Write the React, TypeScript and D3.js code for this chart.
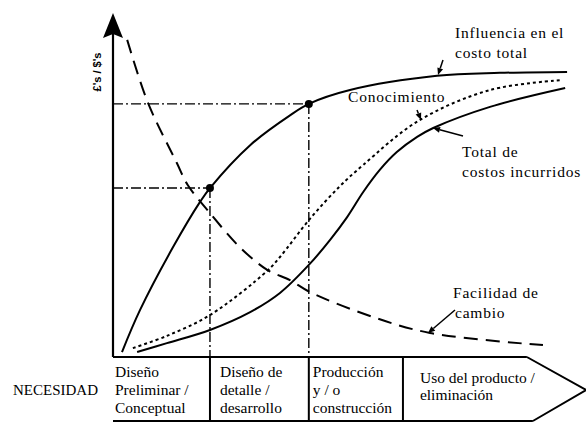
import React from 'react';
import * as d3 from 'd3';

// curve readings, x = project life (0..100), y = relative level (0..100)
const influenceCurve: [number, number][] = [
  [1.9, 1.5], [5.7, 14.2], [12.7, 33.3], [18.4, 47.0], [20.5, 51.2], [29.0, 64.2],
  [37.5, 73.3], [41.4, 76.7], [50.1, 80.9], [68.5, 85.2], [81.8, 86.1], [96.0, 86.4],
];
const easeOfChange: [number, number][] = [
  [3.0, 96.1], [7.4, 77.0], [13.5, 58.8], [15.8, 52.1], [20.5, 43.6], [26.8, 33.3],
  [32.6, 26.4], [37.4, 23.3], [41.6, 19.7], [55.0, 12.1], [67.0, 7.3], [90.9, 3.6],
];
const knowledge: [number, number][] = [
  [4.2, 2.7], [11.4, 6.4], [20.5, 12.7], [32.6, 26.1], [35.3, 30.3], [41.6, 41.8],
  [48.0, 51.8], [52.9, 58.2], [64.5, 71.5], [79.7, 80.9], [94.9, 83.9],
];
const totalCost: [number, number][] = [
  [5.1, 1.5], [11.4, 4.2], [20.5, 8.2], [29.0, 13.6], [35.3, 19.4], [41.6, 28.2],
  [45.9, 35.5], [49.5, 42.4], [52.9, 50.0], [56.4, 56.7], [60.0, 62.1], [64.3, 66.7],
  [67.7, 69.4], [79.7, 75.8], [95.6, 81.5],
];

// phase boundaries along the life axis
const phaseEdges = [0, 20.5, 41.4, 61.3];
const arrowShoulder = 87.5;
const arrowTip = 100;
const phaseLabels = [
  ['Diseño', 'Preliminar /', 'Conceptual'],
  ['Diseño de', 'detalle /', 'desarrollo'],
  ['Producción', 'y / o', 'construcción'],
  ['Uso del producto /', 'eliminación'],
];
const phaseLabelPad = [2, 10, 4, 17];

// reference markers on the influence curve
const markers: [number, number][] = [[20.5, 51.2], [41.4, 76.7]];

const W = 586, H = 423;
const x = d3.scaleLinear().domain([0, 100]).range([113, 586]);
const y = d3.scaleLinear().domain([0, 100]).range([357, 27]);
const line = d3.line<[number, number]>().x(d => x(d[0])).y(d => y(d[1])).curve(d3.curveCatmullRom.alpha(0.5));

const font = 'Liberation Serif';

const Arrow = ({ from, to }: { from: [number, number]; to: [number, number] }) => {
  const ang = Math.atan2(to[1] - from[1], to[0] - from[0]);
  const len = 7, wid = 3;
  const bx = to[0] - len * Math.cos(ang), by = to[1] - len * Math.sin(ang);
  const px = -Math.sin(ang) * wid, py = Math.cos(ang) * wid;
  return (
    <g>
      <line x1={from[0]} y1={from[1]} x2={bx} y2={by} stroke="#000" strokeWidth={1.5} />
      <polygon points={`${to[0]},${to[1]} ${bx + px},${by + py} ${bx - px},${by - py}`} fill="#000" />
    </g>
  );
};

export default function App() {
  const base = y(0);
  const boxBottom = 421;
  const boxMid = (base + boxBottom) / 2;
  const dashDot = '10,3,2,3';
  const boxTxt = { fontFamily: font, fontSize: 15.5 };
  const noteTxt = { fontFamily: font, fontSize: 15.5, letterSpacing: 0.8 };

  return (
    <svg width={W} height={H} style={{ position: 'absolute', left: 0, top: 0, background: '#fff' }}>
      {/* y axis + arrowhead */}
      <line x1={x(0)} y1={base} x2={x(0)} y2={30} stroke="#000" strokeWidth={2.2} />
      <polygon points={`${x(0)},13 ${x(0) - 10},38 ${x(0)},34 ${x(0) + 10},38`} fill="#000" />
      <text transform={`translate(101,72) rotate(-90)`} textAnchor="middle"
        style={{ fontFamily: 'Liberation Sans', fontWeight: 'bold', fontSize: 11 }}>£'s / $'s</text>

      {/* reference lines */}
      {markers.map((m, i) => (
        <g key={i}>
          <line x1={x(0)} x2={x(m[0])} y1={y(m[1])} y2={y(m[1])} stroke="#000" strokeWidth={1.4} strokeDasharray={dashDot} />
          <line x1={x(m[0])} x2={x(m[0])} y1={y(m[1])} y2={base} stroke="#000" strokeWidth={1.4} strokeDasharray={dashDot} />
        </g>
      ))}

      {/* curves */}
      <path d={line(influenceCurve)!} fill="none" stroke="#000" strokeWidth={2} />
      <path d={line(totalCost)!} fill="none" stroke="#000" strokeWidth={2} />
      <path d={line(knowledge)!} fill="none" stroke="#000" strokeWidth={2} strokeDasharray="3,3" />
      <path d={line(easeOfChange)!} fill="none" stroke="#000" strokeWidth={2} strokeDasharray="14,8" />
      {markers.map((m, i) => <circle key={i} cx={x(m[0])} cy={y(m[1])} r={4} fill="#000" />)}

      {/* phase bar */}
      <line x1={x(0)} x2={x(arrowShoulder)} y1={base} y2={base} stroke="#000" strokeWidth={2.2} />
      <line x1={x(0)} x2={x(arrowShoulder) + 6} y1={boxBottom} y2={boxBottom} stroke="#000" strokeWidth={2} />
      <polyline points={`${x(arrowShoulder)},${base} ${x(arrowTip)},${boxMid + 1} ${x(arrowShoulder) + 6},${boxBottom}`}
        fill="none" stroke="#000" strokeWidth={2} />
      {phaseEdges.slice(1).map((e, i) => (
        <line key={i} x1={x(e)} x2={x(e)} y1={base} y2={boxBottom} stroke="#000" strokeWidth={2} />
      ))}
      {phaseLabels.map((lines, i) => {
        const startY = lines.length === 3 ? 377 : 383;
        const step = lines.length === 3 ? 18 : 17;
        const lx = x(phaseEdges[i]) + phaseLabelPad[i];
        return (
          <text key={i} x={lx} y={startY} style={boxTxt}>
            {lines.map((l, j) => <tspan key={j} x={lx} y={startY + j * step}>{l}</tspan>)}
          </text>
        );
      })}
      <text x={13} y={395} style={{ fontFamily: font, fontSize: 15 }}>NECESIDAD</text>

      {/* annotations */}
      <text x={455} y={38} style={noteTxt}>Influencia en el</text>
      <text x={455} y={58} style={noteTxt}>costo total</text>
      <Arrow from={[443, 60]} to={[438, 75]} />

      <text x={348} y={102} style={noteTxt}>Conocimiento</text>
      <Arrow from={[417, 110]} to={[421, 120]} />

      <text x={462} y={157} style={noteTxt}>Total de</text>
      <text x={462} y={177} style={noteTxt}>costos incurridos</text>
      <Arrow from={[463, 136]} to={[433, 128]} />

      <text x={453} y={298} style={noteTxt}>Facilidad de</text>
      <text x={455} y={318} style={noteTxt}>cambio</text>
      <Arrow from={[455, 310]} to={[428, 333]} />
    </svg>
  );
}
